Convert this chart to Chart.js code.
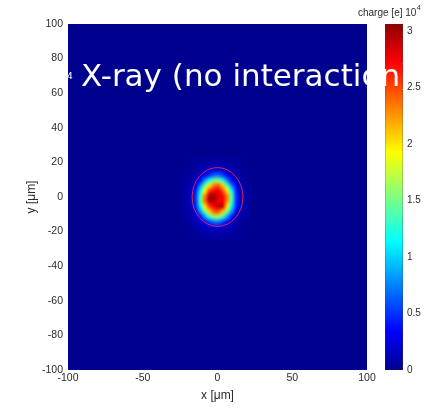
<!DOCTYPE html>
<html>
<head>
<meta charset="utf-8">
<script src="https://cdn.jsdelivr.net/npm/chart.js@4.4.1/dist/chart.umd.min.js"></script>
<style>
  html, body { margin: 0; padding: 0; background: #fff; }
  #wrap { position: relative; width: 427px; height: 416px; }
  #bar { position: absolute; left: 340px; top: 0; z-index: 1; }
  #map { position: absolute; left: 0; top: 0; z-index: 2; }
</style>
</head>
<body>
<div id="wrap">
  <canvas id="bar" width="87" height="416"></canvas>
  <canvas id="map" width="427" height="416"></canvas>
</div>
<script>
// Axis ticks
const xTickValues = [-100, -50, 0, 50, 100];
const yTickValues = [-100, -80, -60, -40, -20, 0, 20, 40, 60, 80, 100];
const cbarTickValues = [0, 0.5, 1, 1.5, 2, 2.5, 3];
const chargeMax = 3.06; // x 10^4 e

// Charge map, 3 um cells, rows from top (y = 23) to bottom, columns from x = -25
const gridX0 = -25;
const gridYTop = 23;
const cellSize = 3;
const charge = [
  [0, 0, 0.01, 0.02, 0.03, 0.04, 0.05, 0.05, 0.05, 0.05, 0.04, 0.03, 0.02, 0.01, 0, 0],
  [0, 0.01, 0.02, 0.04, 0.05, 0.08, 0.09, 0.1, 0.11, 0.09, 0.08, 0.05, 0.04, 0.02, 0.01, 0],
  [0, 0.02, 0.03, 0.06, 0.1, 0.14, 0.2, 0.23, 0.24, 0.2, 0.13, 0.1, 0.06, 0.03, 0.02, 0],
  [0.01, 0.03, 0.06, 0.1, 0.19, 0.34, 0.5, 0.66, 0.7, 0.54, 0.32, 0.17, 0.1, 0.06, 0.03, 0.01],
  [0.02, 0.05, 0.09, 0.17, 0.38, 0.82, 1.22, 1.5, 1.58, 1.28, 0.78, 0.36, 0.17, 0.09, 0.05, 0.02],
  [0.03, 0.06, 0.12, 0.28, 0.8, 1.45, 2.0, 2.35, 2.45, 2.1, 1.42, 0.76, 0.28, 0.12, 0.06, 0.03],
  [0.04, 0.08, 0.16, 0.45, 1.1, 1.95, 2.55, 2.7, 2.8, 2.5, 2.0, 1.15, 0.45, 0.16, 0.08, 0.04],
  [0.04, 0.08, 0.18, 0.52, 1.35, 2.3, 2.95, 3.0, 2.8, 2.7, 2.3, 1.4, 0.52, 0.18, 0.08, 0.04],
  [0.04, 0.08, 0.18, 0.5, 1.4, 2.35, 2.9, 2.95, 2.75, 2.75, 2.25, 1.35, 0.5, 0.18, 0.08, 0.04],
  [0.04, 0.08, 0.16, 0.45, 1.12, 2.0, 2.5, 2.7, 2.9, 2.85, 2.0, 1.1, 0.44, 0.16, 0.08, 0.04],
  [0.03, 0.06, 0.12, 0.28, 0.78, 1.45, 2.05, 2.4, 2.45, 2.1, 1.5, 0.8, 0.28, 0.12, 0.06, 0.03],
  [0.02, 0.05, 0.09, 0.17, 0.37, 0.8, 1.25, 1.55, 1.6, 1.3, 0.82, 0.38, 0.17, 0.09, 0.05, 0.02],
  [0.01, 0.03, 0.06, 0.1, 0.18, 0.33, 0.52, 0.68, 0.7, 0.52, 0.33, 0.18, 0.1, 0.06, 0.03, 0.01],
  [0, 0.02, 0.03, 0.06, 0.1, 0.14, 0.2, 0.23, 0.23, 0.2, 0.14, 0.1, 0.06, 0.03, 0.02, 0],
  [0, 0.01, 0.02, 0.04, 0.05, 0.08, 0.09, 0.1, 0.1, 0.09, 0.08, 0.05, 0.04, 0.02, 0.01, 0],
  [0, 0, 0.01, 0.02, 0.03, 0.04, 0.05, 0.05, 0.05, 0.05, 0.04, 0.03, 0.02, 0.01, 0, 0]
];

// Red circle
const circleCenter = [0, 0];
const circleRadius = 17;

const titleText = 'X-ray (no interaction)';
const sansFont = "'Liberation Sans', Arial, sans-serif";
const textColor = '#2b2b2b';

// MATLAB style jet colour map, t in [0, 1]
function jet(t) {
  t = Math.min(1, Math.max(0, t));
  t = 1 / 64 + t * 62 / 64;
  const c = v => Math.round(255 * Math.min(1, Math.max(0, v)));
  return [
    c(Math.min(4 * t - 1.5, -4 * t + 4.5)),
    c(Math.min(4 * t - 0.5, -4 * t + 3.5)),
    c(Math.min(4 * t + 0.5, -4 * t + 2.5))
  ];
}
function jetCss(t) {
  const [r, g, b] = jet(t);
  return `rgb(${r},${g},${b})`;
}

// Draw the heat map and circle through the chart scales
const heatmapPlugin = {
  id: 'heatmap',
  beforeDatasetsDraw(chart) {
    const { ctx, chartArea: a, scales: { x, y } } = chart;
    ctx.save();
    ctx.beginPath();
    ctx.rect(a.left, a.top, a.right - a.left, a.bottom - a.top);
    ctx.clip();
    ctx.fillStyle = jetCss(0);
    ctx.fillRect(a.left, a.top, a.right - a.left, a.bottom - a.top);

    const rows = charge.length;
    const cols = charge[0].length;
    const off = document.createElement('canvas');
    off.width = cols;
    off.height = rows;
    const octx = off.getContext('2d');
    const img = octx.createImageData(cols, rows);
    for (let j = 0; j < rows; j++) {
      for (let i = 0; i < cols; i++) {
        const [r, g, b] = jet(charge[j][i] / chargeMax);
        const k = (j * cols + i) * 4;
        img.data[k] = r;
        img.data[k + 1] = g;
        img.data[k + 2] = b;
        img.data[k + 3] = 255;
      }
    }
    octx.putImageData(img, 0, 0);

    const left = x.getPixelForValue(gridX0);
    const right = x.getPixelForValue(gridX0 + cols * cellSize);
    const top = y.getPixelForValue(gridYTop);
    const bottom = y.getPixelForValue(gridYTop - rows * cellSize);
    ctx.imageSmoothingEnabled = true;
    ctx.imageSmoothingQuality = 'high';
    ctx.drawImage(off, left, top, right - left, bottom - top);

    // circle
    const cx = x.getPixelForValue(circleCenter[0]);
    const cy = y.getPixelForValue(circleCenter[1]);
    const rx = Math.abs(x.getPixelForValue(circleCenter[0] + circleRadius) - cx);
    const ry = Math.abs(y.getPixelForValue(circleCenter[1] + circleRadius) - cy);
    ctx.beginPath();
    ctx.ellipse(cx, cy, rx, ry, 0, 0, Math.PI * 2);
    ctx.strokeStyle = 'rgb(220, 40, 80)';
    ctx.lineWidth = 1;
    ctx.stroke();
    ctx.restore();
  },
  afterDraw(chart) {
    const { ctx } = chart;
    ctx.save();
    ctx.fillStyle = '#ffffff';
    ctx.textBaseline = 'alphabetic';
    ctx.textAlign = 'left';
    ctx.font = "9px 'DejaVu Sans'";
    ctx.fillText('4', 67, 79);
    ctx.font = "31px 'DejaVu Sans'";
    ctx.fillText(titleText, 81, 86);
    ctx.restore();
  }
};

new Chart(document.getElementById('map'), {
  type: 'scatter',
  data: { datasets: [] },
  options: {
    responsive: false,
    animation: false,
    layout: { padding: { left: 0, top: 24, right: 60, bottom: 0 } },
    plugins: { legend: { display: false }, tooltip: { enabled: false } },
    scales: {
      x: {
        type: 'linear',
        min: -100,
        max: 100,
        afterFit: s => { s.height = 46; },
        afterBuildTicks: s => { s.ticks = xTickValues.map(v => ({ value: v })); },
        grid: { display: false, drawTicks: false },
        border: { display: false },
        ticks: {
          padding: 2,
          autoSkip: false,
          maxRotation: 0,
          color: textColor,
          font: { family: sansFont, size: 10.5 }
        },
        title: {
          display: true,
          text: 'x [μm]',
          color: textColor,
          padding: { top: 0, bottom: 13 },
          font: { family: sansFont, size: 12 }
        }
      },
      y: {
        type: 'linear',
        min: -100,
        max: 100,
        afterFit: s => { s.width = 68; },
        afterBuildTicks: s => { s.ticks = yTickValues.map(v => ({ value: v })); },
        grid: { display: false, drawTicks: false },
        border: { display: false },
        ticks: {
          padding: 5,
          autoSkip: false,
          color: textColor,
          font: { family: sansFont, size: 10.5 }
        },
        title: {
          display: true,
          text: 'y [μm]',
          color: textColor,
          padding: { top: 24, bottom: 0 },
          font: { family: sansFont, size: 12 }
        }
      }
    }
  },
  plugins: [heatmapPlugin]
});

// Colour bar
const cbarLabelPlugin = {
  id: 'cbarLabel',
  afterDraw(chart) {
    const { ctx } = chart;
    ctx.save();
    ctx.fillStyle = textColor;
    ctx.textBaseline = 'alphabetic';
    ctx.textAlign = 'left';
    ctx.font = `10px ${sansFont}`;
    ctx.fillText('charge [e] 10', 18, 16);
    const w = ctx.measureText('charge [e] 10').width;
    ctx.font = `7px ${sansFont}`;
    ctx.fillText('4', 18 + w + 0.5, 10);
    ctx.restore();
  }
};

new Chart(document.getElementById('bar'), {
  type: 'bar',
  data: {
    labels: [''],
    datasets: [{
      data: [[0, chargeMax]],
      backgroundColor: context => {
        const a = context.chart.chartArea;
        if (!a) return jetCss(0.5);
        const g = context.chart.ctx.createLinearGradient(0, a.bottom, 0, a.top);
        for (let i = 0; i <= 64; i++) {
          g.addColorStop(i / 64, jetCss(i / 64));
        }
        return g;
      },
      borderColor: '#333',
      borderWidth: 0.6,
      borderSkipped: false,
      barPercentage: 1,
      categoryPercentage: 1
    }]
  },
  options: {
    responsive: false,
    animation: false,
    layout: { padding: { left: 45, top: 24, right: 0, bottom: 46 } },
    plugins: { legend: { display: false }, tooltip: { enabled: false } },
    scales: {
      x: { display: false },
      y: {
        position: 'right',
        min: 0,
        max: chargeMax,
        afterFit: s => { s.width = 24; },
        afterBuildTicks: s => { s.ticks = cbarTickValues.map(v => ({ value: v })); },
        grid: { display: false, drawTicks: false },
        border: { display: false },
        ticks: {
          padding: 4,
          autoSkip: false,
          color: textColor,
          font: { family: sansFont, size: 10 },
          callback: v => String(v)
        }
      }
    }
  },
  plugins: [cbarLabelPlugin]
});
</script>
</body>
</html>
